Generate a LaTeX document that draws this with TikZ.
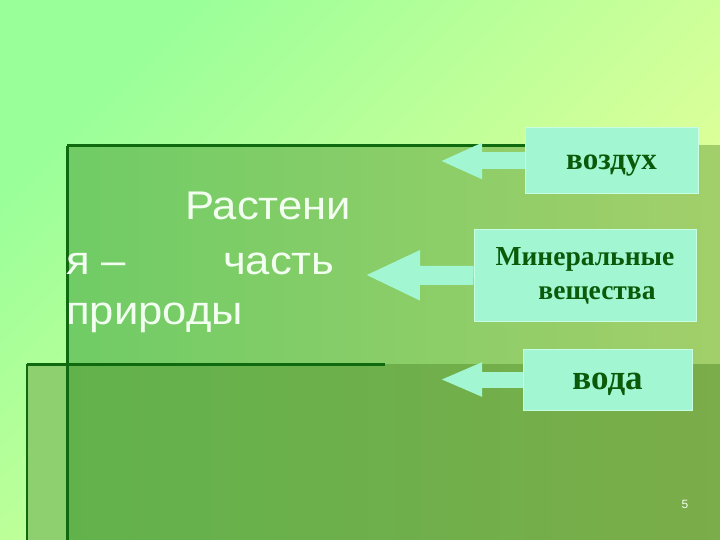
\documentclass[tikz,border=0pt]{standalone}
\usepackage{fontspec}
\setmainfont{Liberation Serif}
\newfontfamily\arialf{Liberation Sans}
\usetikzlibrary{arrows.meta}
\definecolor{bgA}{HTML}{99FF99}
\definecolor{bgB}{HTML}{F0FF99}
\definecolor{upL}{HTML}{70CC66}
\definecolor{upR}{HTML}{A2CF6A}
\definecolor{loL}{HTML}{62B24C}
\definecolor{loR}{HTML}{7BAD4A}
\definecolor{stripc}{HTML}{8ED070}
\definecolor{lineg}{HTML}{0F6A0F}
\definecolor{aqua}{HTML}{A2F7D2}
\definecolor{aquaedge}{HTML}{C8FFE4}
\definecolor{txtg}{HTML}{0A5A0A}
\definecolor{wtxt}{HTML}{F2FFF0}
\tikzset{
  box/.style={fill=aqua, draw=aquaedge, line width=1bp, inner sep=0pt, text=txtg, font=\bfseries},
  arrowc/.style={draw=aqua, line width=#1},
  frame/.style={draw=lineg, line width=3bp},
  bigtxt/.style={anchor=base west, inner sep=0pt, text=wtxt, font=\arialf\fontsize{40bp}{48bp}\selectfont}
}
\begin{document}
\begin{tikzpicture}[x=1bp,y=-1bp]
\useasboundingbox (0,0) rectangle (720,540);
% background
\shade[top color=bgA, bottom color=bgB, shading angle=45] (0,0) rectangle (720,540);
\shade[left color=upL, right color=upR] (67,146) rectangle (720,364);
\fill[stripc] (27,364) rectangle (67,540);
\shade[left color=loL, right color=loR] (67,364) rectangle (720,540);
% frame lines
\draw[frame] (67,146) -- (525,146);
\draw[frame] (67,146) -- (67,540);
\draw[frame] (27,364) -- (385,364);
\draw[frame, line width=2.5bp] (27,364) -- (27,540);
% left text
\node[bigtxt] (t1) at (185,220) {\scalebox{1.09}[1]{Растени}};
\node[bigtxt] (t2) at (66,275) {\scalebox{1.09}[1]{я –}};
\node[bigtxt] (t3) at (223,275) {\scalebox{1.09}[1]{часть}};
\node[bigtxt] (t4) at (66,324) {\scalebox{1.09}[1]{природы}};
% boxes
\node[box, minimum width=173bp, minimum height=66bp, text height=24bp, text depth=6bp, font=\bfseries\fontsize{31bp}{36bp}\selectfont] (b1) at (611.5,161) {воздух};
\node[box, minimum width=222bp, minimum height=91bp, align=center, font=\bfseries\fontsize{27.5bp}{34bp}\selectfont] (b2) at (585,275.5) {Минеральные\\\hspace*{24bp}вещества};
\node[box, minimum width=169bp, minimum height=61bp, text height=26bp, text depth=7bp, font=\bfseries\fontsize{35bp}{40bp}\selectfont] (b3) at (607.5,379.5) {вода};
% arrows
\coordinate (p1) at (440,161);
\coordinate (p2) at (365,275);
\coordinate (p3) at (440,379.5);
\draw[arrowc=17bp, -{Triangle[length=42bp, width=33bp]}] (b1.west) -- (p1);
\draw[arrowc=19bp, -{Triangle[length=55bp, width=46bp]}] (b2.west) -- (p2);
\draw[arrowc=16bp, -{Triangle[length=42bp, width=31bp]}] (b3.west) -- (p3);
% page number
\node[inner sep=0pt, text=wtxt, font=\arialf\fontsize{12bp}{14bp}\selectfont] (pn) at (685,504) {5};
\end{tikzpicture}
\end{document}
